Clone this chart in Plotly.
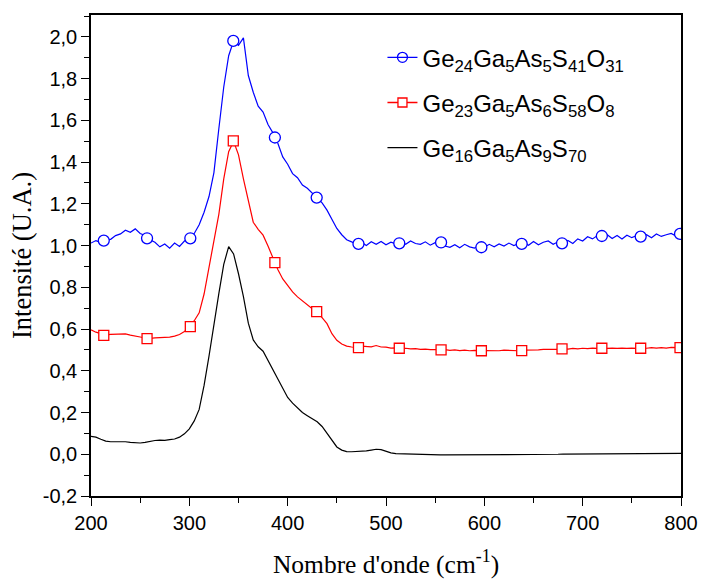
import plotly.graph_objects as go

# ---------------- data ----------------
wavenumber = list(range(200, 801, 5))

blue_y = [1.012, 1.024, 1.014, 1.028, 1.030, 1.048, 1.056, 1.074, 1.064, 1.080,
          1.058, 1.048, 1.028, 1.016, 0.994, 1.008, 0.988, 1.012, 0.996, 1.022,
          1.034, 1.058, 1.100, 1.160, 1.235, 1.350, 1.560, 1.760, 1.910, 1.980,
          1.960, 1.995, 1.815, 1.735, 1.668, 1.640, 1.580, 1.540, 1.490, 1.425,
          1.390, 1.345, 1.325, 1.290, 1.275, 1.250, 1.228, 1.205, 1.170, 1.125,
          1.082, 1.052, 1.028, 1.018, 1.004, 1.016, 1.000, 1.018, 1.006, 1.020,
          1.004, 1.016, 1.008, 1.018, 1.006, 1.022, 1.010, 1.006, 1.018, 1.002,
          1.014, 1.018, 0.998, 0.992, 1.004, 0.990, 1.006, 0.994, 0.988, 1.000,
          0.992, 1.006, 0.994, 1.008, 0.998, 1.012, 1.000, 1.010, 1.014, 1.002,
          1.020, 1.004, 1.016, 1.022, 1.006, 1.018, 1.008, 1.024, 1.010, 1.032,
          1.022, 1.042, 1.032, 1.048, 1.038, 1.052, 1.034, 1.048, 1.032, 1.050,
          1.038, 1.048, 1.040, 1.052, 1.038, 1.056, 1.044, 1.052, 1.058, 1.046,
          1.058]

red_y = [0.596, 0.585, 0.578, 0.572, 0.575, 0.576, 0.574, 0.577, 0.571, 0.568,
         0.562, 0.557, 0.555, 0.558, 0.558, 0.561, 0.561, 0.566, 0.574, 0.588,
         0.606, 0.640, 0.678, 0.768, 0.890, 1.020, 1.150, 1.320, 1.450, 1.500,
         1.435, 1.320, 1.210, 1.112, 1.078, 1.050, 0.998, 0.940, 0.885, 0.840,
         0.806, 0.778, 0.754, 0.734, 0.716, 0.697, 0.683, 0.656, 0.626, 0.578,
         0.546, 0.528, 0.518, 0.514, 0.512, 0.518, 0.516, 0.515, 0.521, 0.514,
         0.513, 0.509, 0.510, 0.507, 0.508, 0.505, 0.506, 0.503, 0.504, 0.501,
         0.502, 0.499, 0.501, 0.498, 0.500, 0.497, 0.499, 0.496, 0.498, 0.495,
         0.497, 0.496, 0.498, 0.496, 0.499, 0.497, 0.498, 0.496, 0.499, 0.499,
         0.502, 0.500, 0.503, 0.502, 0.504, 0.503, 0.506, 0.504, 0.507, 0.505,
         0.508, 0.506, 0.509, 0.507, 0.509, 0.507, 0.509, 0.507, 0.509, 0.507,
         0.509, 0.507, 0.510, 0.508, 0.511, 0.509, 0.511, 0.509, 0.512, 0.510,
         0.511]

black_y = [0.086, 0.082, 0.072, 0.063, 0.060, 0.061, 0.059, 0.060, 0.057, 0.055,
           0.054, 0.057, 0.062, 0.066, 0.068, 0.067, 0.070, 0.073, 0.082, 0.098,
           0.122, 0.160, 0.215, 0.330, 0.470, 0.630, 0.770, 0.910, 0.995, 0.960,
           0.865, 0.755, 0.628, 0.548, 0.515, 0.494, 0.450, 0.405, 0.360, 0.312,
           0.272, 0.245, 0.222, 0.200, 0.185, 0.170, 0.156, 0.133, 0.100, 0.062,
           0.035, 0.020, 0.013, 0.012, 0.013, 0.014, 0.016, 0.020, 0.024, 0.022,
           0.013, 0.007, 0.003, 0.002, 0.001, 0.000, 0.000, -0.001, -0.001, -0.002,
           -0.002, -0.003, -0.003, -0.003, -0.003, -0.003, -0.003, -0.003, -0.003, -0.003,
           -0.003, -0.003, -0.003, -0.003, -0.003, -0.003, -0.003, -0.003, -0.003, -0.003,
           -0.002, -0.002, -0.001, -0.001, 0.000, 0.000, 0.001, 0.001, 0.001, 0.002,
           0.002, 0.002, 0.002, 0.003, 0.003, 0.003, 0.003, 0.003, 0.003, 0.003,
           0.004, 0.004, 0.004, 0.004, 0.004, 0.004, 0.004, 0.004, 0.004, 0.004,
           0.004]

marker_x = [213, 257, 301, 344.7, 387, 429.5, 472, 513.5, 556, 597, 638, 679, 719.5, 759, 799]
blue_marker_y = [1.024, 1.035, 1.035, 1.981, 1.518, 1.230, 1.008, 1.011, 1.015, 0.992,
                 1.008, 1.011, 1.046, 1.043, 1.056]
red_marker_y = [0.570, 0.554, 0.612, 1.502, 0.918, 0.684, 0.511, 0.508, 0.500, 0.496,
                0.497, 0.505, 0.508, 0.508, 0.511]

names = ["Ge<sub>24</sub>Ga<sub>5</sub>As<sub>5</sub>S<sub>41</sub>O<sub>31</sub>",
         "Ge<sub>23</sub>Ga<sub>5</sub>As<sub>6</sub>S<sub>58</sub>O<sub>8</sub>",
         "Ge<sub>16</sub>Ga<sub>5</sub>As<sub>9</sub>S<sub>70</sub>"]

y_tickvals = [-0.2, 0.0, 0.2, 0.4, 0.6, 0.8, 1.0, 1.2, 1.4, 1.6, 1.8, 2.0]
y_ticktext = ["-0,2", "0,0", "0,2", "0,4", "0,6", "0,8", "1,0", "1,2", "1,4", "1,6", "1,8", "2,0"]
x_tickvals = [200, 300, 400, 500, 600, 700, 800]

BLUE = "#0000FF"
RED = "#FF0000"
BLACK = "#000000"
SANS = "Liberation Sans, Arial"
SERIF = "Liberation Serif, Times New Roman"

fig = go.Figure()

# legend entries
fig.add_trace(go.Scatter(x=[None], y=[None], mode="lines+markers", name=names[0],
                         line=dict(color=BLUE, width=1.3),
                         marker=dict(symbol="circle-open", size=10, color=BLUE, line=dict(width=1.3)),
                         legendgroup="a"))
fig.add_trace(go.Scatter(x=[None], y=[None], mode="lines+markers", name=names[1],
                         line=dict(color=RED, width=1.3),
                         marker=dict(symbol="square", size=9, color="white", line=dict(color=RED, width=1.3)),
                         legendgroup="b"))
fig.add_trace(go.Scatter(x=[None], y=[None], mode="lines", name=names[2],
                         line=dict(color=BLACK, width=1.3), legendgroup="c"))

# data lines
fig.add_trace(go.Scatter(x=wavenumber, y=black_y, mode="lines", showlegend=False,
                         line=dict(color=BLACK, width=1.2)))
fig.add_trace(go.Scatter(x=wavenumber, y=red_y, mode="lines", showlegend=False,
                         line=dict(color=RED, width=1.2)))
fig.add_trace(go.Scatter(x=wavenumber, y=blue_y, mode="lines", showlegend=False,
                         line=dict(color=BLUE, width=1.2)))
# markers
fig.add_trace(go.Scatter(x=marker_x, y=red_marker_y, mode="markers", showlegend=False,
                         marker=dict(symbol="square", size=10, color="white",
                                     line=dict(color=RED, width=1.3))))
fig.add_trace(go.Scatter(x=marker_x, y=blue_marker_y, mode="markers", showlegend=False,
                         marker=dict(symbol="circle", size=11, color="white",
                                     line=dict(color=BLUE, width=1.3))))

fig.update_layout(
    width=701, height=579,
    margin=dict(l=91, r=20, t=15, b=83),
    paper_bgcolor="white", plot_bgcolor="white",
    showlegend=True,
    legend=dict(x=0.494, y=0.958, xanchor="left", yanchor="top",
                font=dict(family=SANS, size=24, color="black"),
                bgcolor="rgba(0,0,0,0)", traceorder="grouped", tracegroupgap=11),
    xaxis=dict(range=[200, 800], tickvals=x_tickvals, automargin=False,
               ticks="outside", ticklen=8, tickwidth=1.3, tickcolor="black",
               minor=dict(dtick=50, ticks="outside", ticklen=5, tickwidth=1.3, tickcolor="black"),
               showline=True, linecolor="black", linewidth=1.5, mirror=True,
               showgrid=False, zeroline=False,
               tickfont=dict(family=SANS, size=20, color="black"),
               title=dict(text="Nombre d'onde (cm<sup>-1</sup>)", standoff=23,
                          font=dict(family=SERIF, size=25.5, color="black"))),
    yaxis=dict(range=[-0.2, 2.105], tickvals=y_tickvals, ticktext=y_ticktext, automargin=False,
               ticks="outside", ticklen=8, tickwidth=1.3, tickcolor="black",
               minor=dict(dtick=0.1, tick0=0, ticks="outside", ticklen=5, tickwidth=1.3, tickcolor="black"),
               showline=True, linecolor="black", linewidth=1.5, mirror=True,
               showgrid=False, zeroline=False,
               tickfont=dict(family=SANS, size=20, color="black"),
               title=dict(text="Intensité (U.A.)", standoff=4,
                          font=dict(family=SERIF, size=26.5, color="black"))),
)

fig.write_html("out.html", config={"displayModeBar": False},
               post_script="document.body.style.margin='0px';")
